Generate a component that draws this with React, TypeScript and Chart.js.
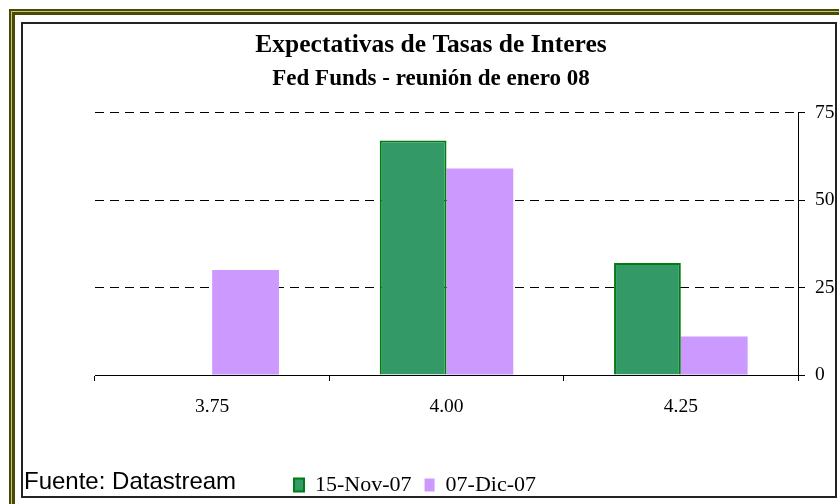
import React, { useEffect, useRef } from 'react';
import { Chart, registerables } from 'chart.js';

Chart.register(...registerables);

const categories = ['3.75', '4.00', '4.25'];
const seriesNov = [0, 67, 32];
const seriesDic = [30, 59, 11];
const seriesLabels = ['15-Nov-07', '07-Dic-07'];
const yMin = 0;
const yMax = 75;
const yStep = 25;
const titleText = 'Expectativas de Tasas de Interes';
const subtitleText = 'Fed Funds - reunión de enero 08';
const sourceText = 'Fuente: Datastream';

const serif = "'Liberation Serif', 'Times New Roman', serif";

const legendShift = {
  id: 'legendShift',
  afterLayout(chart: any) {
    const l = chart.legend;
    if (l) {
      l.left -= 16;
      l.right -= 16;
    }
  },
};

export default function App() {
  const ref = useRef<HTMLCanvasElement>(null);

  useEffect(() => {
    const chart = new Chart(ref.current as HTMLCanvasElement, {
      type: 'bar',
      data: {
        labels: categories,
        datasets: [
          {
            label: seriesLabels[0],
            data: seriesNov,
            backgroundColor: '#339966',
            borderColor: '#007d12',
            borderWidth: 2,
            barPercentage: 1,
            categoryPercentage: 0.57,
          },
          {
            label: seriesLabels[1],
            data: seriesDic,
            backgroundColor: '#cc99ff',
            borderWidth: 0,
            barPercentage: 1,
            categoryPercentage: 0.57,
          },
        ],
      },
      options: {
        responsive: false,
        animation: false,
        events: [],
        layout: { padding: { left: 23, right: 0, top: 22, bottom: -2 } },
        plugins: {
          title: {
            display: true,
            text: titleText,
            color: '#000',
            font: { family: serif, size: 25.5, weight: 'bold', lineHeight: 1.2 },
            padding: { top: 8, bottom: 0 },
          },
          subtitle: {
            display: true,
            text: subtitleText,
            color: '#000',
            font: { family: serif, size: 23, weight: 'bold', lineHeight: 1.2 },
            padding: { top: 4.3, bottom: 20 },
          },
          legend: {
            position: 'bottom',
            labels: {
              color: '#000',
              font: { family: serif, size: 22 },
              boxWidth: 10,
              boxHeight: 13,
              padding: 13,
            },
          },
          tooltip: { enabled: false },
        },
        scales: {
          x: {
            grid: {
              display: true,
              drawOnChartArea: false,
              offset: true,
              tickLength: 6,
              tickColor: '#000',
              color: '#000',
            },
            border: { display: true, color: '#000', width: 1, z: 1 },
            ticks: { color: '#000', font: { family: serif, size: 19.5 }, padding: 14 },
            afterFit: (s: any) => {
              s.height = 86;
            },
          },
          y: {
            position: 'right',
            min: yMin,
            max: yMax,
            ticks: { stepSize: yStep, color: '#000', font: { family: serif, size: 19.5 }, padding: 10 },
            grid: {
              color: '#000',
              lineWidth: 1,
              tickLength: 7,
              tickColor: '#000',
              tickBorderDash: [],
              borderDash: [9, 6],
            } as any,
            border: { display: true, color: '#000', width: 1, dash: [9, 6] } as any,
            afterFit: (s: any) => {
              s.width = 41;
            },
          },
          yL: {
            type: 'linear',
            position: 'left',
            display: true,
            grid: { display: false },
            ticks: { display: false },
            border: { display: false },
            afterFit: (s: any) => {
              s.width = 72;
            },
          },
        },
      } as any,
      plugins: [legendShift],
    });
    return () => chart.destroy();
  }, []);

  return (
    <div
      style={{
        position: 'absolute',
        left: 0,
        top: 0,
        width: 839,
        height: 504,
        overflow: 'hidden',
        background: '#fff',
      }}
    >
      <div
        style={{
          position: 'absolute',
          left: 9,
          top: 9,
          width: 860,
          height: 520,
          boxSizing: 'border-box',
          border: '2px solid #4b4b00',
        }}
      >
        <div style={{ position: 'absolute', inset: 0, border: '1px solid #c4c49a' }}>
          <div style={{ position: 'absolute', inset: 0, border: '3px solid #4b4b00' }} />
        </div>
      </div>
      <div
        style={{
          position: 'absolute',
          left: 21,
          top: 22,
          width: 816,
          height: 476,
          boxSizing: 'border-box',
          border: '2px solid #222',
          background: '#fff',
        }}
      />
      <canvas ref={ref} width={839} height={504} style={{ position: 'absolute', left: 0, top: 0 }} />
      <div
        style={{
          position: 'absolute',
          left: 24,
          top: 469,
          font: '24px "Liberation Sans", Arial, sans-serif',
          lineHeight: '24px',
          color: '#000',
          whiteSpace: 'nowrap',
        }}
      >
        {sourceText}
      </div>
    </div>
  );
}
